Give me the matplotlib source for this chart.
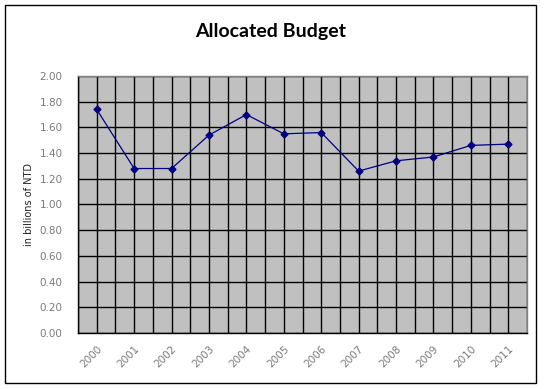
import numpy as np
import matplotlib.pyplot as plt
from matplotlib.patches import Rectangle

# Data
years = ["2000", "2001", "2002", "2003", "2004", "2005",
         "2006", "2007", "2008", "2009", "2010", "2011"]
budget = [1.74, 1.28, 1.28, 1.54, 1.70, 1.55,
          1.56, 1.26, 1.34, 1.37, 1.46, 1.47]
y_ticks = [0.0, 0.2, 0.4, 0.6, 0.8, 1.0, 1.2, 1.4, 1.6, 1.8, 2.0]

fig = plt.figure(figsize=(5.44, 3.89), dpi=100)
ax = fig.add_axes([0.1434, 0.144, 0.8254, 0.6606])
ax.set_facecolor("#c0c0c0")

x = np.arange(len(years))
ax.plot(x, budget, color="#000080", lw=0.9, marker="D", markersize=3.5, zorder=3)

ax.set_xlim(-0.5, len(years) - 0.5)
ax.set_ylim(0, 2.0)

# gridlines: horizontal at y ticks, vertical every half category
ax.set_yticks(y_ticks)
ax.set_yticklabels(["%.2f" % v for v in y_ticks])
ax.set_xticks(x)
ax.set_xticklabels(years, rotation=45, ha="right", rotation_mode="anchor")
ax.set_xticks(np.arange(-0.5, len(years), 1.0), minor=True)
ax.grid(True, which="major", axis="both", color="black", lw=1.0)
ax.grid(True, which="minor", axis="x", color="black", lw=1.0)
ax.set_axisbelow(True)

ax.tick_params(axis="both", which="both", length=0)
ax.tick_params(axis="y", pad=11, labelsize=7.5, labelcolor="#7a7a7a")
ax.tick_params(axis="x", pad=8, labelsize=7.5, labelcolor="#7a7a7a")

for side in ["left", "bottom"]:
    ax.spines[side].set_color("black")
    ax.spines[side].set_linewidth(1.0)
for side in ["top", "right"]:
    ax.spines[side].set_color("#808080")
    ax.spines[side].set_linewidth(1.0)

ax.set_ylabel("in billions of NTD", fontsize=7, color="#202020", labelpad=4)

fig.text(0.498, 0.918, "Allocated Budget", ha="center", va="center",
         fontsize=14, fontweight="bold", family=["Lato", "DejaVu Sans"])

# outer chart frame
fig.patches.append(Rectangle((5 / 544, 6 / 389), 531 / 544, 378 / 389,
                             transform=fig.transFigure, fill=False,
                             edgecolor="black", lw=1.0))

fig.savefig("out.png", dpi=100)
